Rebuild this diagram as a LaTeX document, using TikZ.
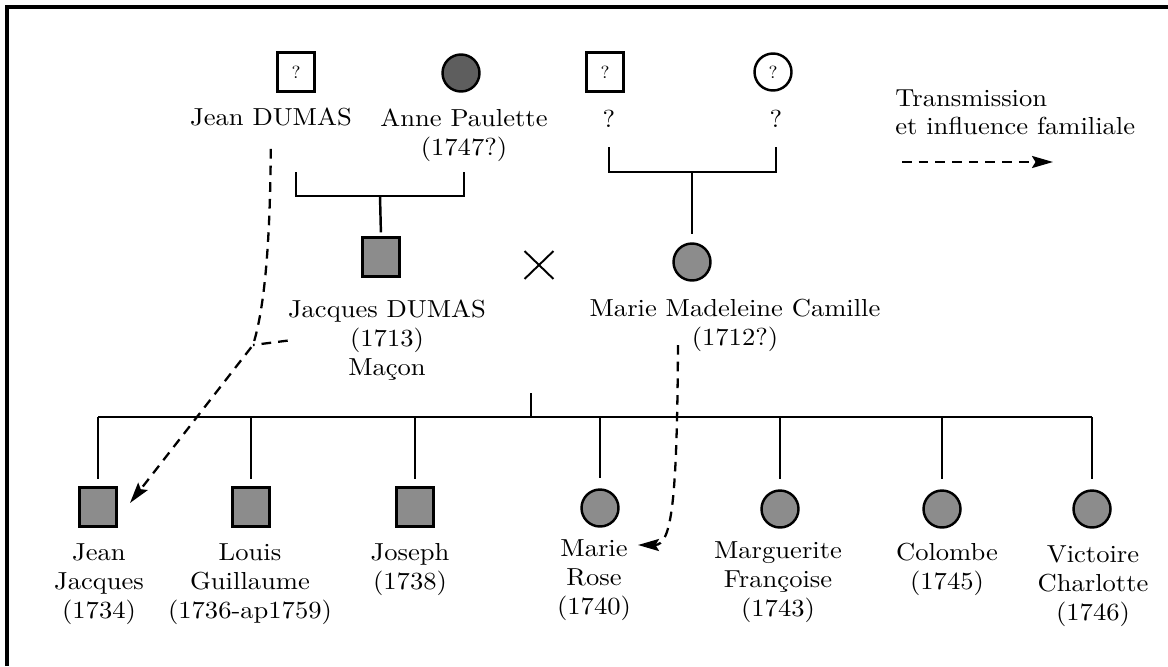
\documentclass[tikz,border=0pt]{standalone}
\usepackage{fontspec}
\setmainfont{lmroman10-regular.otf}[FakeStretch=1.08]
\usepackage{tikz}
\usetikzlibrary{arrows.meta,shapes.misc}

\definecolor{kingray}{gray}{0.55}
\definecolor{ancgray}{gray}{0.37}

\begin{document}
\begin{tikzpicture}[x=0.02cm, y=-0.02cm,
  >={Stealth[length=0.42cm, width=0.24cm, inset=0.07cm]},
  kin/.style={line width=1.4pt},
  person/.style={draw, line width=1.4pt, fill=kingray, inner sep=0pt, font=\fontsize{10}{11}\selectfont},
  male/.style={person, rectangle, minimum width=0.74cm, minimum height=0.78cm},
  female/.style={person, circle, minimum size=0.74cm},
  lbl/.style={align=center, inner sep=0pt, font=\fontsize{14}{16.5}\selectfont},
  flowline/.style={line width=1.3pt, dash pattern=on 5.5pt off 4pt}]
  \useasboundingbox (0,0) rectangle (1168,666);

  % Frame
  \draw[line width=2.2pt] (7,666) -- (7,7) -- (1168,7);

  % Grandparents
  \node[male, fill=white] (pjd) at (296,72) {?};
  \node[female, fill=ancgray] (ap) at (461,73) {};
  \node[male, fill=white] (pmm) at (605,72) {?};
  \node[female, fill=white] (mmm) at (773,72) {?};
  \node[lbl, anchor=north] (jean) at (271,108) {Jean DUMAS};
  \node[lbl, anchor=north] (anne) at (464,109) {Anne Paulette\\(1747?)};
  \node[lbl, anchor=north] (pmm-l) at (609,110) {?};
  \node[lbl, anchor=north] (mmm-l) at (776,110) {?};

  % Parents
  \node[male] (jd) at (381,257) {};
  \node[female] (mmc) at (692,262) {};
  \node[draw, cross out, line width=1.1pt, inner sep=0pt, minimum width=0.54cm, minimum height=0.52cm] (wed) at (539,265) {};
  \node[lbl, anchor=north] (jd-l) at (387,300) {Jacques DUMAS\\(1713)\\Maçon};
  \node[lbl, anchor=north] (mmc-l) at (735,299) {Marie Madeleine Camille\\(1712?)};

  \coordinate (pj-bar) at (380,196);
  \draw[kin] (pjd |- 0,172) -- (pjd |- pj-bar) -- (anne |- pj-bar) -- (anne |- 0,172);
  \draw[kin, shorten >=0.08cm] (pj-bar) -- (jd.north);
  \coordinate (mm-bar) at (692,172);
  \draw[kin] (pmm-l |- 0,147) -- (pmm-l |- mm-bar) -- (mmm-l |- mm-bar) -- (mmm-l |- 0,147);
  \draw[kin, shorten >=0.16cm] (mm-bar) -- (mmc.north);

  % Children
  \node[male] (jj) at (98,507) {};
  \node[male] (lg) at (251,507) {};
  \node[male] (jo) at (415,507) {};
  \node[female] (mr) at (600,508) {};
  \node[female] (mf) at (780,509) {};
  \node[female] (co) at (942,509) {};
  \node[female] (vc) at (1092,509) {};
  \node[lbl, anchor=north] (jj-l) at (99,543) {Jean\\Jacques\\(1734)};
  \node[lbl, anchor=north] (lg-l) at (250,543) {Louis\\Guillaume\\(1736-ap1759)};
  \node[lbl, anchor=north] (jo-l) at (410,543) {Joseph\\(1738)};
  \node[lbl, anchor=north] (mr-l) at (594,539) {Marie\\Rose\\(1740)};
  \node[lbl, anchor=north] (mf-l) at (778,541) {Marguerite\\Françoise\\(1743)};
  \node[lbl, anchor=north] (co-l) at (947,543) {Colombe\\(1745)};
  \node[lbl, anchor=north] (vc-l) at (1093,545) {Victoire\\Charlotte\\(1746)};

  \coordinate (sib-top) at (531,393);
  \coordinate (sib) at (531,417);
  \draw[kin] (sib-top) -- (sib);
  \draw[kin] (jj |- sib) -- (vc |- sib);
  \draw[kin, shorten >=0.15cm] (jj |- sib) -- (jj.north);
  \draw[kin, shorten >=0.15cm] (lg |- sib) -- (lg.north);
  \draw[kin, shorten >=0.15cm] (jo |- sib) -- (jo.north);
  \draw[kin, shorten >=0.2cm] (mr |- sib) -- (mr.north);
  \draw[kin, shorten >=0.2cm] (mf |- sib) -- (mf.north);
  \draw[kin, shorten >=0.2cm] (co |- sib) -- (co.north);
  \draw[kin, shorten >=0.2cm] (vc |- sib) -- (vc.north);

  % Transmission
  \coordinate (jd-join) at (253,345);
  \coordinate (jj-in) at (130,503);
  \coordinate (mmc-out) at (678,345);
  \coordinate (mr-in) at (638,545);
  \draw[flowline, ->, shorten <=0.44cm] (jean.south) .. controls (270,250) and (264,310) .. (jd-join) -- (jj-in);
  \draw[flowline] (jd-l.west) -- (jd-join);
  \draw[flowline, ->] (mmc-out) .. controls (677,500) and (672,545) .. (mr-in);

  % Legend
  \node[lbl, anchor=north west, align=left] (legend) at (895,89) {Transmission\\et influence familiale};
  \coordinate (leg-a) at (902,162);
  \coordinate (leg-b) at (1053,162);
  \draw[flowline, ->] (leg-a) -- (leg-b);
\end{tikzpicture}
\end{document}
